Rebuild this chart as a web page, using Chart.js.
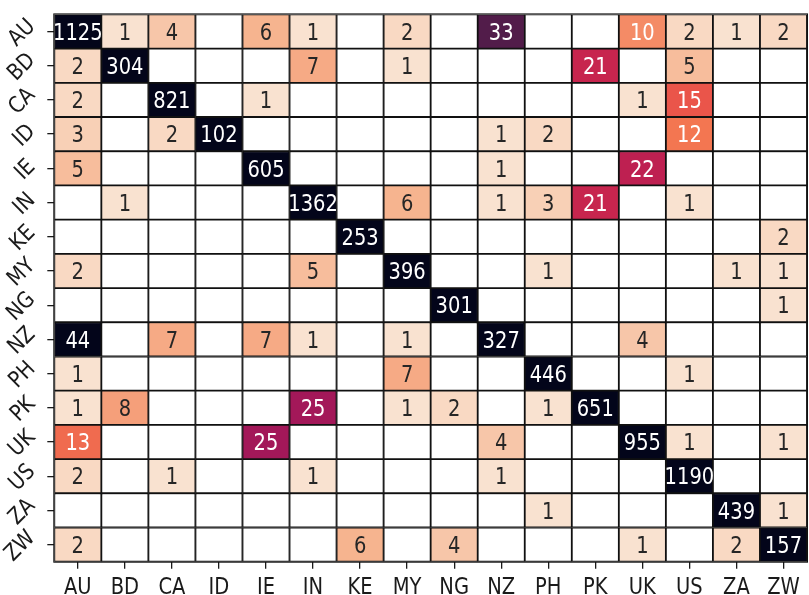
<!DOCTYPE html>
<html>
<head>
<meta charset="utf-8">
<script src="https://cdn.jsdelivr.net/npm/chart.js@4"></script>
<style>
  html, body { margin: 0; padding: 0; background: #fff; }
  #wrap { width: 809px; height: 595px; }
</style>
</head>
<body>
<div id="wrap"><canvas id="grafico"></canvas></div>
<script>
// categorias (linha = real, coluna = previsto)
const labels = ['AU', 'BD', 'CA', 'ID', 'IE', 'IN', 'KE', 'MY', 'NG', 'NZ', 'PH', 'PK', 'UK', 'US', 'ZA', 'ZW'];

// uma linha da matriz de confusão por categoria
const rowAU = [1125, 1, 4, 0, 6, 1, 0, 2, 0, 33, 0, 0, 10, 2, 1, 2];
const rowBD = [2, 304, 0, 0, 0, 7, 0, 1, 0, 0, 0, 21, 0, 5, 0, 0];
const rowCA = [2, 0, 821, 0, 1, 0, 0, 0, 0, 0, 0, 0, 1, 15, 0, 0];
const rowID = [3, 0, 2, 102, 0, 0, 0, 0, 0, 1, 2, 0, 0, 12, 0, 0];
const rowIE = [5, 0, 0, 0, 605, 0, 0, 0, 0, 1, 0, 0, 22, 0, 0, 0];
const rowIN = [0, 1, 0, 0, 0, 1362, 0, 6, 0, 1, 3, 21, 0, 1, 0, 0];
const rowKE = [0, 0, 0, 0, 0, 0, 253, 0, 0, 0, 0, 0, 0, 0, 0, 2];
const rowMY = [2, 0, 0, 0, 0, 5, 0, 396, 0, 0, 1, 0, 0, 0, 1, 1];
const rowNG = [0, 0, 0, 0, 0, 0, 0, 0, 301, 0, 0, 0, 0, 0, 0, 1];
const rowNZ = [44, 0, 7, 0, 7, 1, 0, 1, 0, 327, 0, 0, 4, 0, 0, 0];
const rowPH = [1, 0, 0, 0, 0, 0, 0, 7, 0, 0, 446, 0, 0, 1, 0, 0];
const rowPK = [1, 8, 0, 0, 0, 25, 0, 1, 2, 0, 1, 651, 0, 0, 0, 0];
const rowUK = [13, 0, 0, 0, 25, 0, 0, 0, 0, 4, 0, 0, 955, 1, 0, 1];
const rowUS = [2, 0, 1, 0, 0, 1, 0, 0, 0, 1, 0, 0, 0, 1190, 0, 0];
const rowZA = [0, 0, 0, 0, 0, 0, 0, 0, 0, 0, 1, 0, 0, 0, 439, 1];
const rowZW = [2, 0, 0, 0, 0, 0, 6, 0, 4, 0, 0, 0, 1, 0, 2, 157];

const rows = [rowAU, rowBD, rowCA, rowID, rowIE, rowIN, rowKE, rowMY, rowNG, rowNZ, rowPH, rowPK, rowUK, rowUS, rowZA, rowZW];

const FONT = 'DejaVu Sans';
const FS = 19.5;      // tamanho da fonte
const STRETCH = 1.15; // texto um pouco mais alto que largo, como no original
const VMAX = 42;

// paleta "rocket" (seaborn), do escuro ao claro
const rocket = [
    [0.000, [3, 5, 26]],
    [0.143, [53, 25, 62]],
    [0.286, [112, 31, 87]],
    [0.429, [173, 23, 89]],
    [0.571, [225, 51, 66]],
    [0.714, [243, 118, 81]],
    [0.857, [246, 180, 143]],
    [1.000, [250, 235, 221]]
];

function rocketRgb(p) {
    for (let i = 1; i < rocket.length; i++) {
        if (p <= rocket[i][0]) {
            const [p0, c0] = rocket[i - 1];
            const [p1, c1] = rocket[i];
            const f = (p - p0) / (p1 - p0);
            return c0.map((c, k) => Math.round(c + (c1[k] - c) * f));
        }
    }
    return rocket[rocket.length - 1][1];
}

function cellRgb(v) {
    if (!v) return [255, 255, 255];
    return rocketRgb(1 - Math.min(v / VMAX, 1));
}

function cellColor(v) {
    const c = cellRgb(v);
    return `rgb(${c[0]},${c[1]},${c[2]})`;
}

function textColor(v) {
    const lin = cellRgb(v).map(c => {
        c /= 255;
        return c <= 0.03928 ? c / 12.92 : Math.pow((c + 0.055) / 1.055, 2.4);
    });
    const lum = 0.2126 * lin[0] + 0.7152 * lin[1] + 0.0722 * lin[2];
    return lum > 0.408 ? '#262626' : '#ffffff';
}

// escreve texto com o centro das maiúsculas em (cx, cy)
function drawText(ctx, txt, cx, cy, angle) {
    ctx.save();
    ctx.translate(cx, cy);
    if (angle) ctx.rotate(angle);
    ctx.scale(1, STRETCH);
    ctx.fillText(txt, 0, 0.3645 * FS);
    ctx.restore();
}

// números dentro das células + rótulos dos eixos
const annotate = {
    id: 'annotate',
    afterDatasetsDraw(chart) {
        const { ctx, scales: { x, y }, chartArea } = chart;
        ctx.save();
        ctx.strokeStyle = '#111';
        ctx.lineWidth = 1;
        ctx.strokeRect(chartArea.left - 0.5, chartArea.top - 0.5, chartArea.right - chartArea.left + 1, chartArea.bottom - chartArea.top + 1);

        ctx.font = `${FS}px "${FONT}"`;
        ctx.textAlign = 'center';
        ctx.textBaseline = 'alphabetic';
        rows.forEach((row, r) => {
            row.forEach((v, c) => {
                if (!v) return;
                ctx.fillStyle = textColor(v);
                drawText(ctx, String(v), x.getPixelForValue(c), y.getPixelForValue(r + 0.5));
            });
        });

        ctx.fillStyle = '#1a1a1a';
        labels.forEach((lab, i) => {
            drawText(ctx, lab, x.getPixelForValue(i), chartArea.bottom + 23.8);
            const w = ctx.measureText(lab).width;
            drawText(ctx, lab, 38 - (w + 22) * 0.3536, y.getPixelForValue(i + 0.5), -Math.PI / 4);
        });
        ctx.restore();
    }
};

const datasets = rows.map((row, r) => ({
    label: labels[r],
    data: row.map(() => [r, r + 1]),
    backgroundColor: row.map(cellColor),
    borderColor: '#111',
    borderWidth: 1.25,
    borderSkipped: false,
    barPercentage: 1,
    categoryPercentage: 1,
    grouped: false
}));

new Chart(document.getElementById('grafico'), {
    type: 'bar',
    data: { labels: labels, datasets: datasets },
    options: {
        responsive: true,
        maintainAspectRatio: false,
        animation: false,
        layout: { padding: { top: 2, right: 2, left: 0, bottom: 0 } },
        plugins: {
            legend: { display: false },
            tooltip: { enabled: false }
        },
        scales: {
            x: {
                type: 'category',
                offset: true,
                grid: { offset: false, drawOnChartArea: false, drawTicks: true, tickLength: 7, color: '#1a1a1a', lineWidth: 1.3 },
                border: { display: false },
                ticks: { color: 'rgba(0,0,0,0)', font: { family: FONT, size: 19 }, padding: 2, maxRotation: 0, autoSkip: false },
                afterFit(scale) { scale.height = 33.3; }
            },
            y: {
                type: 'linear',
                min: 0,
                max: 16,
                reverse: true,
                grid: { drawOnChartArea: false, drawTicks: true, tickLength: 7, color: '#1a1a1a', lineWidth: 1.3 },
                border: { display: false },
                ticks: { display: true, color: 'rgba(0,0,0,0)', font: { family: FONT, size: 19 } },
                afterBuildTicks(scale) { scale.ticks = labels.map((_, i) => ({ value: i + 0.5 })); },
                afterFit(scale) { scale.width = 54.3; }
            }
        }
    },
    plugins: [annotate]
});
</script>
</body>
</html>
